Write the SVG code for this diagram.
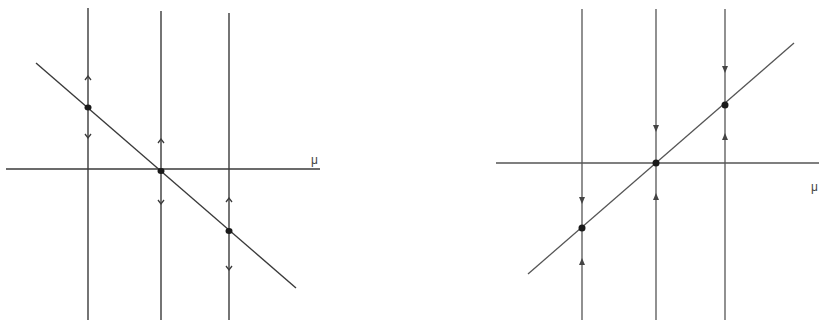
<svg xmlns="http://www.w3.org/2000/svg" width="819" height="320" viewBox="0 0 819 320">
<defs>
<style>
.ln{stroke:#3a3a3a;stroke-width:1.4;fill:none}
.ln2{stroke:#555;stroke-width:1.3;fill:none}
.open{stroke:#3a3a3a;stroke-width:1.3;fill:none}
.tri{fill:#444;stroke:none}
.dot{fill:#1a1a1a}
.lbl{font-family:"Liberation Sans",Arial,sans-serif;font-size:12px;fill:#444}
</style>
</defs>
<rect width="819" height="320" fill="#fff"/>
<g id="left-panel">
  <g id="connectors-left">
    <line class="ln" x1="6" y1="169" x2="320" y2="169"/>
    <line class="ln" x1="88" y1="8" x2="88" y2="320"/>
    <line class="ln" x1="161" y1="11" x2="161" y2="320"/>
    <line class="ln" x1="229" y1="13" x2="229" y2="320"/>
    <line class="ln" x1="36" y1="63" x2="296" y2="288"/>
    <path class="open" d="M85,80 L88,76 L91,80"/>
    <path class="open" d="M85,134 L88,138 L91,134"/>
    <path class="open" d="M158,143 L161,139 L164,143"/>
    <path class="open" d="M158,200 L161,204 L164,200"/>
    <path class="open" d="M226,202 L229,198 L232,202"/>
    <path class="open" d="M226,266 L229,270 L232,266"/>
  </g>
  <g id="node-l1"><ellipse class="dot" cx="88" cy="107.5" rx="3.5" ry="3"/></g>
  <g id="node-l2"><ellipse class="dot" cx="161" cy="171" rx="3.5" ry="3"/></g>
  <g id="node-l3"><ellipse class="dot" cx="229" cy="231" rx="3.5" ry="3"/></g>
  <text class="lbl" x="311" y="164">μ</text>
</g>
<g id="right-panel">
  <g id="connectors-right">
    <line class="ln2" x1="496" y1="163" x2="819" y2="163"/>
    <line class="ln2" x1="582" y1="9" x2="582" y2="320"/>
    <line class="ln2" x1="656" y1="9" x2="656" y2="320"/>
    <line class="ln2" x1="725" y1="9" x2="725" y2="320"/>
    <line class="ln2" x1="528" y1="274" x2="794" y2="43"/>
    <path class="tri" d="M579,197 L585,197 L582,204 Z"/>
    <path class="tri" d="M579,265 L585,265 L582,258 Z"/>
    <path class="tri" d="M653,125 L659,125 L656,132 Z"/>
    <path class="tri" d="M653,200 L659,200 L656,193 Z"/>
    <path class="tri" d="M722,66 L728,66 L725,73 Z"/>
    <path class="tri" d="M722,140 L728,140 L725,133 Z"/>
  </g>
  <g id="node-r1"><circle class="dot" cx="582" cy="228" r="3.5"/></g>
  <g id="node-r2"><circle class="dot" cx="656" cy="163" r="3.5"/></g>
  <g id="node-r3"><circle class="dot" cx="725" cy="105" r="3.5"/></g>
  <text class="lbl" x="811" y="191">μ</text>
</g>
</svg>
